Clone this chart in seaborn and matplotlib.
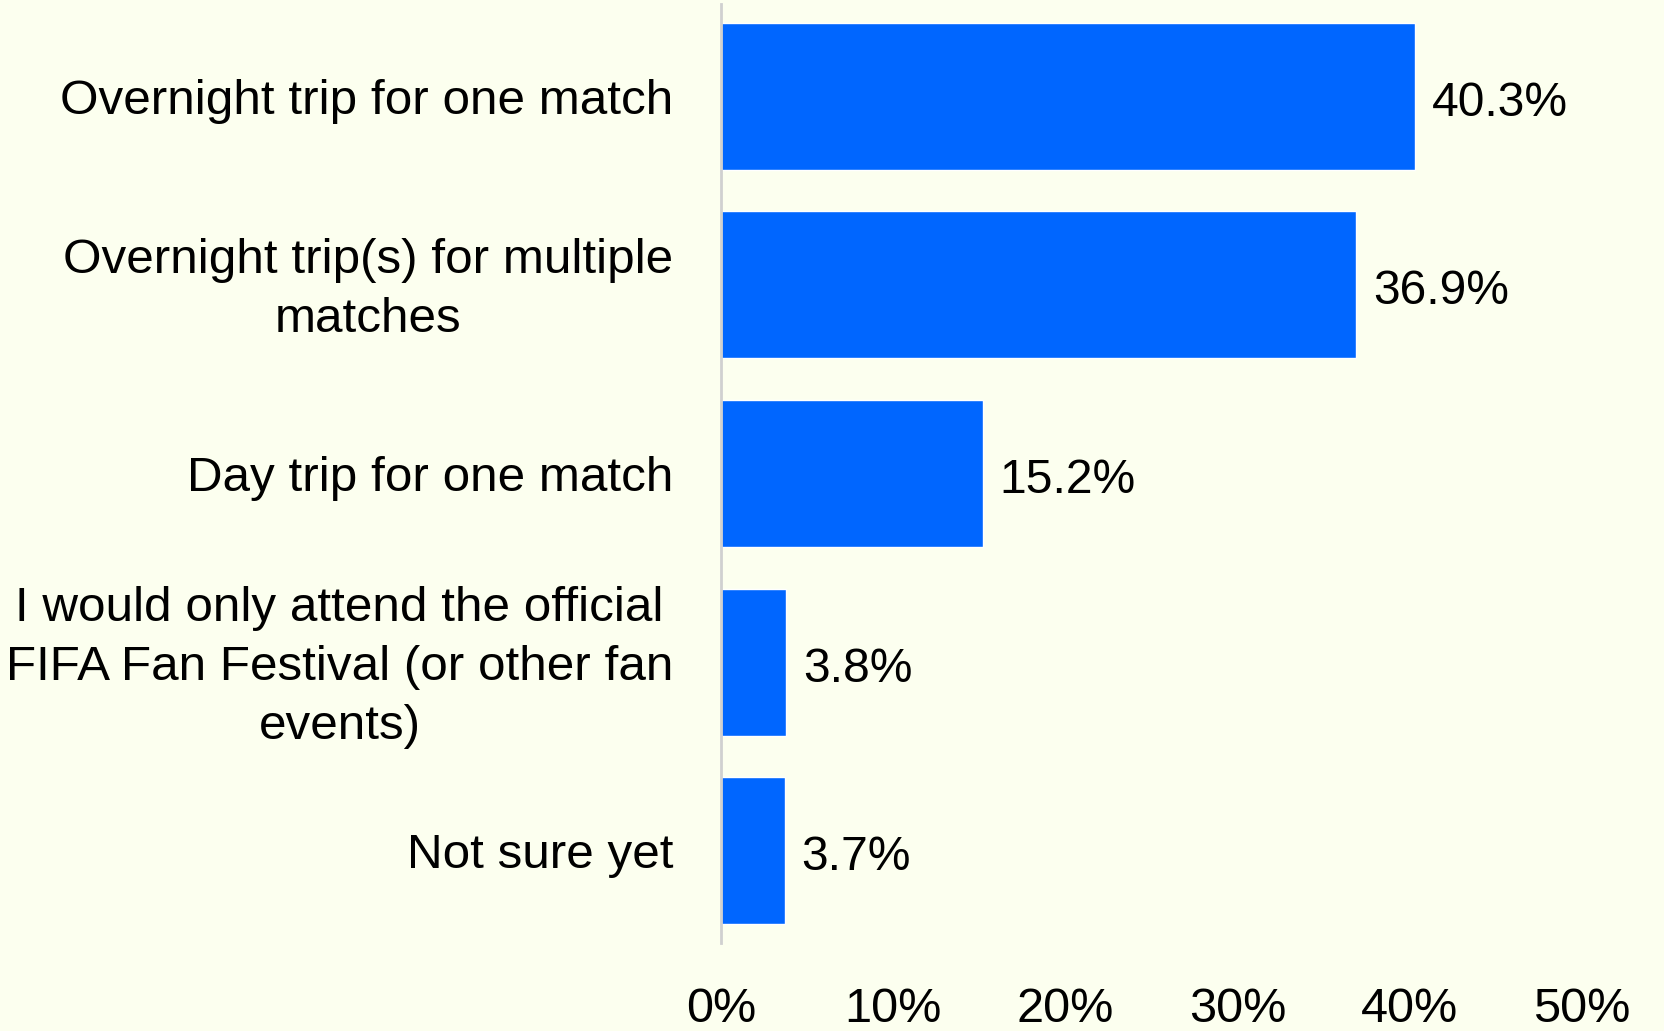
import matplotlib
matplotlib.use("Agg")
import matplotlib.pyplot as plt
import matplotlib.transforms as mtransforms
import seaborn as sns
import pandas as pd

categories = [
    "Overnight trip for one match",
    "Overnight trip(s) for multiple\nmatches",
    "Day trip for one match",
    "I would only attend the official\nFIFA Fan Festival (or other fan\nevents)",
    "Not sure yet",
]
values = [40.3, 36.9, 15.2, 3.8, 3.7]
value_labels = ["40.3%", "36.9%", "15.2%", "3.8%", "3.7%"]
xticks = [0, 10, 20, 30, 40, 50]
xtick_labels = ["0%", "10%", "20%", "30%", "40%", "50%"]

BG = "#FCFFEF"
BAR = "#0066FF"

sns.set_theme(style="white")
plt.rcParams["font.family"] = ["Liberation Sans", "DejaVu Sans"]

df = pd.DataFrame({"category": categories, "value": values})

fig = plt.figure(figsize=(16.65, 10.31), dpi=100, facecolor=BG)
ax = fig.add_axes([721 / 1665, 1 - 943 / 1031, (1582 - 721) / 1665, (943 - 4) / 1031])
ax.set_facecolor(BG)

sns.barplot(data=df, x="value", y="category", color=BAR, width=0.78,
            saturation=1, ax=ax, orient="h")

ax.set_xlim(0, 50)
ax.set_ylim(4.49, -0.49)
ax.set_xticks(xticks)
ax.set_xticklabels(xtick_labels, fontsize=35)
ax.tick_params(axis="x", length=0, pad=32)
ax.tick_params(axis="y", length=0, pad=34.5)
for lab in ax.get_yticklabels():
    lab.set_fontsize(35.6)
    lab.set_multialignment("center")
    lab.set_linespacing(1.40)
    lab.set_color("black")
    if "\n" in lab.get_text():
        lab.set_transform(lab.get_transform() +
                          mtransforms.ScaledTranslation(0, 0.07, fig.dpi_scale_trans))
for lab in ax.get_xticklabels():
    lab.set_color("black")

ax.set_xlabel("")
ax.set_ylabel("")
for s in ["top", "right", "bottom"]:
    ax.spines[s].set_visible(False)
ax.spines["left"].set_color("#D0D0D0")
ax.spines["left"].set_linewidth(2)

for i, (v, t) in enumerate(zip(values, value_labels)):
    ax.annotate(t, (v, i), xytext=(17, -7), textcoords="offset pixels",
                ha="left", va="center", fontsize=34.6, color="black")

fig.savefig("out.png", dpi=100, facecolor=BG)
